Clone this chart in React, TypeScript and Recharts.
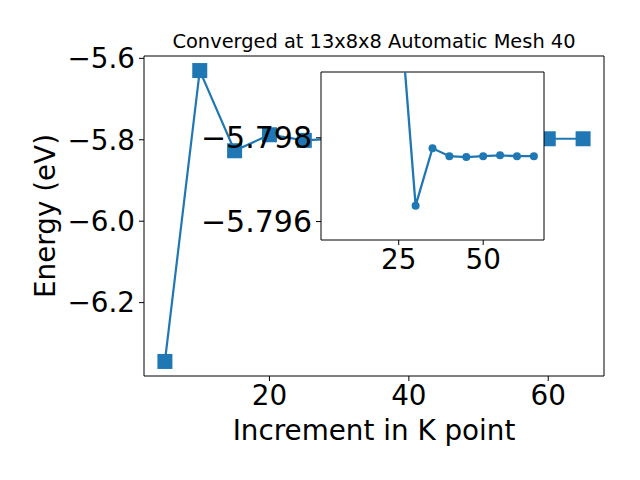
import React from 'react';
import { LineChart, Line, XAxis, YAxis, CartesianGrid, ReferenceLine } from 'recharts';

// ---- data ----
const kPoints = [5, 10, 15, 20, 25, 30, 35, 40, 45, 50, 55, 60, 65];
const energy = [
  -6.3445, -5.63, -5.827, -5.7877, -5.8015, -5.79638, -5.79775, -5.79756,
  -5.79754, -5.79756, -5.79758, -5.79756, -5.79756,
];
const mainXTicks = [20, 40, 60];
const mainYTicks = [-6.2, -6.0, -5.8, -5.6];
const insetXTicks = [25, 50];
const insetYTicks = [-5.798, -5.796];
const insetStartIndex = 4; // inset series starts at k = 25
const insetYDomain: [number, number] = [-5.79957, -5.79556];

const titleText = 'Converged at 13x8x8 Automatic Mesh 40';
const xLabelText = 'Increment in K point';
const yLabelText = 'Energy (eV)';

// ---- styling ----
const C = '#1f77b4';
const FONT = '"DejaVu Sans", sans-serif';
const TICK_FS = 27.8;

const mainData = kPoints.map((k, i) => ({ k, e: energy[i] }));
const insetData = mainData.slice(insetStartIndex);

const kMin = Math.min(...kPoints);
const kMax = Math.max(...kPoints);
const kPad = (kMax - kMin) * 0.05;
const xDomain: [number, number] = [kMin - kPad, kMax + kPad];
const eMin = Math.min(...energy);
const eMax = Math.max(...energy);
const ePad = (eMax - eMin) * 0.05;
const yDomain: [number, number] = [eMin - ePad, eMax + ePad];

const fmt = (d: number) => (v: number) => v.toFixed(d).replace('-', '\u2212');

const Square = (props: any) => {
  const { cx, cy, index } = props;
  if (cx == null || cy == null) return <g key={`sq-${index}`} />;
  return <rect key={`sq-${index}`} x={cx - 7.5} y={cy - 7.5} width={15} height={15} fill={C} />;
};

const tickStyle = { fontSize: TICK_FS, fill: '#000', fontFamily: FONT };

export default function App() {
  return (
    <div style={{ position: 'absolute', left: 0, top: 0, width: 640, height: 480, background: '#fff' }}>
      <div style={{ position: 'absolute', left: 0, top: 0 }}>
        <LineChart width={640} height={480} data={mainData} margin={{ top: 56, right: 36, left: 0, bottom: 0 }}>
          <XAxis
            dataKey="k"
            type="number"
            domain={xDomain}
            ticks={mainXTicks}
            interval={0}
            height={104}
            tick={tickStyle}
            tickSize={5}
            tickMargin={4}
            stroke="#000"
          />
          <YAxis
            type="number"
            domain={yDomain}
            ticks={mainYTicks}
            interval={0}
            width={144}
            tick={tickStyle}
            tickFormatter={fmt(1)}
            tickSize={5}
            tickMargin={4}
            stroke="#000"
          />
          <ReferenceLine y={yDomain[1]} stroke="#000" strokeWidth={1} ifOverflow="visible" />
          <ReferenceLine x={xDomain[1]} stroke="#000" strokeWidth={1} ifOverflow="visible" />
          <Line
            dataKey="e"
            type="linear"
            stroke={C}
            strokeWidth={2.2}
            dot={Square}
            activeDot={false}
            isAnimationActive={false}
          />
        </LineChart>
      </div>
      <svg width={640} height={480} style={{ position: 'absolute', left: 0, top: 0 }}>
        <text x={374} y={48} textAnchor="middle" fontSize={19.4} fontFamily={FONT} fill="#000">
          {titleText}
        </text>
        <text x={374} y={440} textAnchor="middle" fontSize={27.8} fontFamily={FONT} fill="#000">
          {xLabelText}
        </text>
        <text transform="translate(55,216) rotate(-90)" textAnchor="middle" fontSize={27.8} fontFamily={FONT} fill="#000">
          {yLabelText}
        </text>
      </svg>
      <div style={{ position: 'absolute', left: 0, top: 0 }}>
        <LineChart width={640} height={480} data={insetData} margin={{ top: 72, right: 96, left: 0, bottom: 200 }}>
          <CartesianGrid fill="#fff" stroke="none" horizontal={false} vertical={false} />
          <XAxis
            dataKey="k"
            type="number"
            domain={xDomain}
            ticks={insetXTicks}
            interval={0}
            height={40}
            tick={tickStyle}
            tickSize={5}
            tickMargin={4}
            stroke="#000"
            allowDataOverflow
          />
          <YAxis
            type="number"
            domain={insetYDomain}
            reversed
            allowDataOverflow
            ticks={insetYTicks}
            interval={0}
            width={321}
            tick={{ ...tickStyle, fontSize: 30 }}
            tickFormatter={fmt(3)}
            tickSize={5}
            tickMargin={4}
            stroke="#000"
          />
          <ReferenceLine y={insetYDomain[0]} stroke="#000" strokeWidth={1} ifOverflow="visible" />
          <ReferenceLine x={xDomain[1]} stroke="#000" strokeWidth={1} ifOverflow="visible" />
          <Line
            dataKey="e"
            type="linear"
            stroke={C}
            strokeWidth={2.3}
            dot={{ r: 4, fill: C, stroke: C, strokeWidth: 0 }}
            activeDot={false}
            isAnimationActive={false}
          />
        </LineChart>
      </div>
    </div>
  );
}
